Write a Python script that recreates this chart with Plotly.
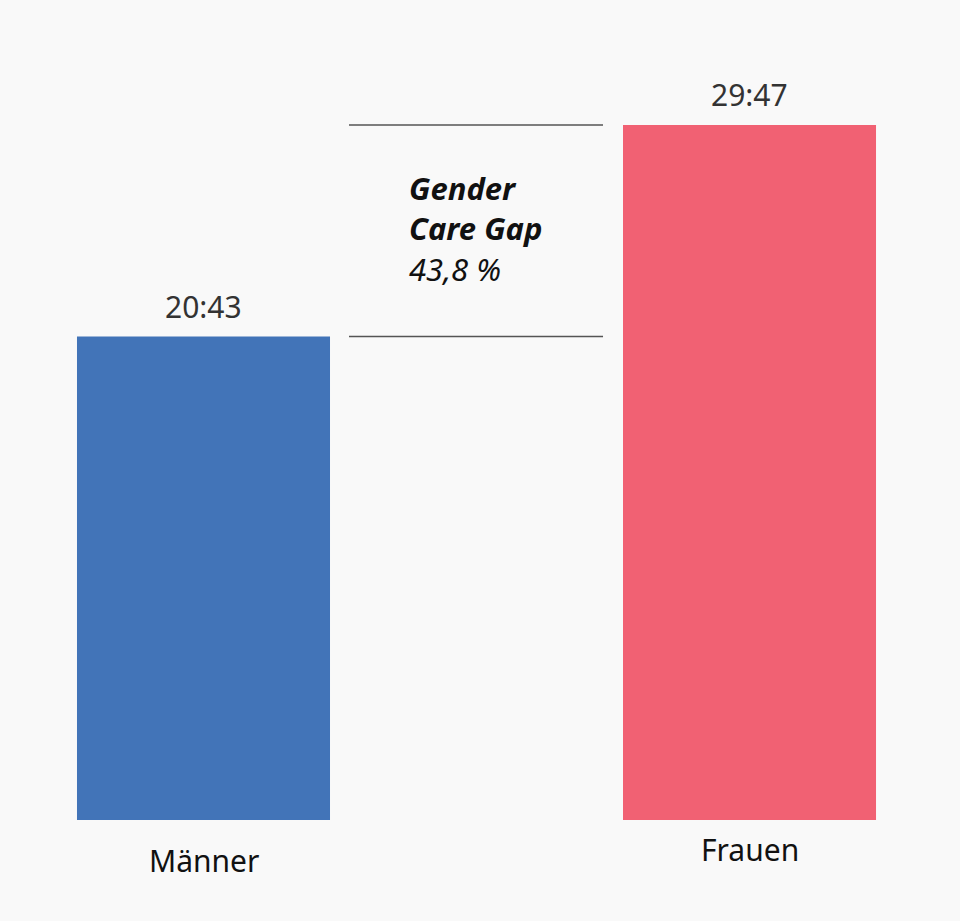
import plotly.graph_objects as go

# Wöchentliche Sorgearbeit in Stunden (hh:mm)
categories = ["Männer", "Frauen"]
hours = [20 + 43 / 60, 29 + 47 / 60]
value_labels = ["20:43", "29:47"]
bar_colors = ["#4274b8", "#f16173"]
gap_label = "<b><i>Gender</i></b><br><b><i>Care Gap</i></b><br><i>43,8 %</i>"

font_family = "Noto Sans"

fig = go.Figure(go.Bar(
    x=[0, 1],
    y=hours,
    width=0.4634,
    marker=dict(color=bar_colors, line=dict(width=0)),
    hoverinfo="skip",
))

# Werte über den Balken
for i, (val, lab) in enumerate(zip(hours, value_labels)):
    fig.add_annotation(x=i, y=val, text=lab, showarrow=False,
                       yanchor="bottom", yshift=8,
                       font=dict(family=font_family, size=30, color="#333333"))

# Kategorienamen unter den Balken
label_shift = [-18, -7]
for i, cat in enumerate(categories):
    fig.add_annotation(x=i, y=0, text=cat, showarrow=False,
                       yanchor="top", yshift=label_shift[i],
                       font=dict(family=font_family, size=30, color="#111111"))

# Linien für den Abstand
for val in hours:
    fig.add_shape(type="line", x0=0.2665, x1=0.7317, y0=val, y1=val,
                  line=dict(color="#555555", width=1.5))

fig.add_annotation(x=0.372, y=sum(hours) / 2, text=gap_label, showarrow=False,
                   xanchor="left", yanchor="middle", align="left", yshift=2,
                   font=dict(family=font_family, size=31, color="#111111"))

fig.update_layout(
    width=960,
    height=921,
    margin=dict(l=0, r=0, t=0, b=101),
    paper_bgcolor="#f9f9f9",
    plot_bgcolor="#f9f9f9",
    showlegend=False,
    xaxis=dict(range=[-0.3727, 1.3855], visible=False, fixedrange=True),
    yaxis=dict(range=[0, 820 / 23.336], visible=False, fixedrange=True),
)

fig.write_html(
    "out.html",
    config={"displayModeBar": False},
    post_script="document.body.style.margin='0';document.body.style.background='#f9f9f9';",
)
